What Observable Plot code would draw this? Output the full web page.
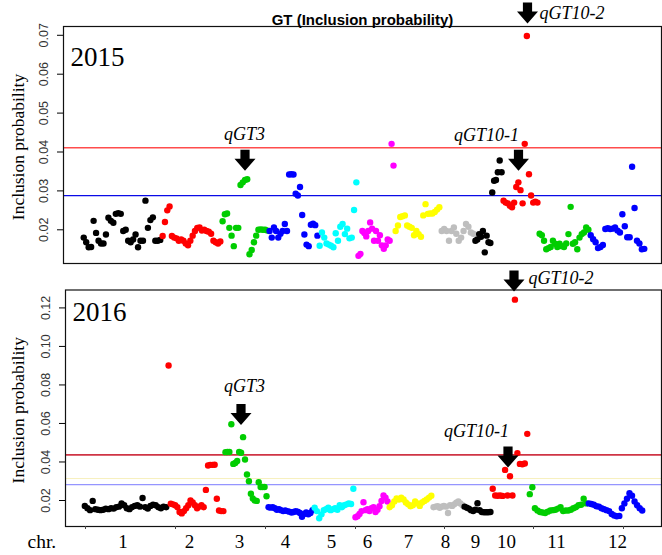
<!DOCTYPE html>
<html><head><meta charset="utf-8">
<script src="https://cdn.jsdelivr.net/npm/d3@7"></script>
<script src="https://cdn.jsdelivr.net/npm/@observablehq/plot@0.6"></script>
<style>
body{margin:0;background:#fff;}
#wrap{position:relative;width:662px;height:555px;overflow:hidden;background:#fff;}
#p1{position:absolute;left:0;top:0;}
#p2{position:absolute;left:0;top:270px;}
svg{overflow:visible;}
</style></head><body><div id="wrap"><div id="p1"></div><div id="p2"></div></div>
<script>
// ---------- data ----------
const chromosomes = ["1","2","3","4","5","6","7","8","9","10","11","12"];
const chrColors = ["black","red","#00CD00","blue","cyan","magenta","yellow","#BEBEBE","black","red","#00CD00","blue"];

// cumulative marker positions of chromosome starts (13 = starts + end)
const chrStart2015 = [19, 98, 158, 205, 255, 294, 331, 377, 411, 439, 475, 526, 582];
const chrStart2016 = [18, 102, 159, 202, 248, 289, 323, 367, 398, 426, 463, 522, 578];

// 2015 inclusion probabilities, per chromosome, in map order
const p2015_chr1 = [0.018,0.0168,0.0155,0.0156,0.0223,0.0192,0.0172,0.0165,0.0165,0.0188,0.0231,0.0223,0.0218,0.0241,0.0243,0.0241,0.0197,0.020,0.0172,0.0168,0.0175,0.0188,0.0155,0.0172,0.0172,0.0275,0.0205,0.0225,0.0232,0.0172,0.0172,0.0174];
const p2015_chr2 = [0.0184,0.022,0.025,0.026,0.0184,0.018,0.0178,0.0172,0.0175,0.0172,0.0165,0.016,0.0172,0.0185,0.0197,0.0205,0.0206,0.0198,0.020,0.0197,0.0195,0.019,0.0172,0.0168,0.0165,0.017];
const p2015_chr3 = [0.0222,0.024,0.0242,0.0205,0.0185,0.0158,0.0205,0.0205,0.0315,0.0322,0.0328,0.033,0.0137,0.0148,0.0168,0.0185,0.0200,0.0201,0.0200,0.0200,0.0198];
const p2015_chr4 = [0.0197,0.018,0.0206,0.0197,0.018,0.019,0.0197,0.0215,0.0197,0.0342,0.0343,0.0342,0.0293,0.0288,0.031,0.0238,0.0188,0.0162,0.0158,0.0213,0.0216,0.0212,0.0185];
const p2015_chr5 = [0.0159,0.0193,0.018,0.0165,0.0162,0.0159,0.0155,0.0191,0.0172,0.0208,0.0215,0.0189,0.0203,0.0178,0.018,0.0251,0.0322];
const p2015_chr6 = [0.0133,0.0138,0.0197,0.0192,0.0183,0.0197,0.0219,0.0203,0.0172,0.0197,0.0172,0.0186,0.016,0.0151,0.016,0.0175,0.0172,0.0421,0.0365];
const p2015_chr7 = [0.0197,0.0211,0.0233,0.0235,0.0237,0.0211,0.0208,0.0205,0.0186,0.0197,0.0189,0.0182,0.0237,0.0266,0.0241,0.0242,0.0242,0.0246,0.0252,0.0258];
const p2015_chr8 = [0.0197,0.0202,0.0197,0.0172,0.0197,0.0206,0.019,0.0172,0.018,0.0197,0.0215,0.0208,0.0193,0.019];
const p2015_chr9 = [0.0172,0.0175,0.0189,0.0182,0.0197,0.0142,0.0185,0.0168,0.0166,0.0296,0.0326,0.0328,0.0348,0.0378,0.0348];
const p2015_chr10 = [0.0275,0.027,0.0268,0.0262,0.0258,0.027,0.031,0.0322,0.0302,0.0268,0.0421,0.0698,0.0343,0.0288,0.027,0.0272,0.027];
const p2015_chr11 = [0.019,0.0186,0.0172,0.015,0.0153,0.0156,0.0172,0.0164,0.0156,0.0164,0.0158,0.0156,0.0165,0.0189,0.0259,0.0164,0.0168,0.015,0.018,0.0189,0.0193,0.0206,0.02];
const p2015_chr12 = [0.0186,0.0176,0.0168,0.0153,0.0156,0.0161,0.0202,0.0204,0.0202,0.0203,0.0206,0.0198,0.0193,0.024,0.0209,0.0181,0.0181,0.0362,0.0256,0.0172,0.0165,0.015,0.0151];

// 2016 inclusion probabilities
const p2016_chr1 = [0.0172,0.016,0.015,0.0198,0.0155,0.0152,0.015,0.0152,0.0158,0.0155,0.016,0.0158,0.0165,0.0168,0.0185,0.0175,0.016,0.0155,0.0165,0.0172,0.0175,0.0168,0.0213,0.0165,0.0158,0.0172,0.0178,0.0175,0.0165,0.016,0.0168,0.0165];
const p2016_chr2 = [0.0901,0.0183,0.018,0.0175,0.0165,0.014,0.0133,0.0145,0.016,0.0175,0.020,0.019,0.0175,0.016,0.0168,0.0175,0.0165,0.0255,0.0382,0.0385,0.0385,0.0386,0.0209,0.0148,0.0145,0.0145];
const p2016_chr3 = [0.0451,0.0452,0.0452,0.0596,0.039,0.0395,0.0405,0.0452,0.0448,0.0529,0.0413,0.0335,0.030,0.0235,0.021,0.020,0.0198,0.0295,0.027,0.027,0.027,0.0222];
const p2016_chr4 = [0.0165,0.0163,0.0165,0.016,0.0152,0.0155,0.015,0.0145,0.0148,0.0145,0.0142,0.0138,0.014,0.0145,0.0142,0.0135,0.0115,0.013,0.0138,0.0128,0.0135,0.015];
const p2016_chr5 = [0.0162,0.0145,0.0108,0.0128,0.015,0.0155,0.0162,0.015,0.0155,0.016,0.0152,0.0175,0.0165,0.0175,0.018,0.0185,0.0182,0.0261];
const p2016_chr6 = [0.0113,0.0118,0.013,0.0145,0.0191,0.015,0.0155,0.0145,0.016,0.0165,0.014,0.0152,0.017,0.0198,0.0226,0.0215,0.0195];
const p2016_chr7 = [0.0165,0.0175,0.0195,0.021,0.0205,0.0215,0.0205,0.019,0.018,0.017,0.0175,0.0195,0.0185,0.0172,0.019,0.0198,0.0205,0.0215,0.0225];
const p2016_chr8 = [0.0165,0.0168,0.017,0.0162,0.0168,0.0172,0.0168,0.0135,0.0175,0.0172,0.018,0.0188,0.0195,0.0185,0.0175];
const p2016_chr9 = [0.0168,0.0163,0.0158,0.015,0.0145,0.0152,0.0186,0.015,0.014,0.0139,0.0139,0.0139,0.014];
const p2016_chr10 = [0.0261,0.0226,0.0225,0.0226,0.0224,0.0359,0.0226,0.0326,0.0226,0.1243,0.0446,0.039,0.0388,0.0392,0.0546];
const p2016_chr11 = [0.0233,0.0269,0.016,0.0148,0.014,0.0138,0.0135,0.0142,0.0148,0.015,0.0152,0.0158,0.0165,0.0145,0.0148,0.0148,0.0152,0.016,0.0165,0.0175,0.0178,0.0209,0.0185];
const p2016_chr12 = [0.0185,0.0182,0.0178,0.017,0.0168,0.016,0.0155,0.015,0.0145,0.013,0.0122,0.0118,0.012,0.016,0.0185,0.0209,0.0238,0.0225,0.0195,0.0175,0.016,0.0148];

// thresholds
const thresholds2015 = {red: 0.0411, blue: 0.0288};
const thresholds2016 = {red: 0.0437, blue: 0.0282, faint: 0.0314};

// axis ticks
const yTicks2015 = [0.02, 0.03, 0.04, 0.05, 0.06, 0.07];
const yTicks2016 = [0.02, 0.04, 0.06, 0.08, 0.10, 0.12];
const chrLabelPos = [57.5, 124, 174, 220, 266, 302, 343, 380, 410, 441, 491, 552];
const xTickPos = [20, 110, 200, 290, 379, 468, 558];

// QTL annotations
const qtl2015 = [
  {label: "qGT3", tx: 181, ty: 0.0432, ax: 181.5, ay: 0.0379, anchor: "middle"},
  {label: "qGT10-1", tx: 423, ty: 0.0427, ax: 455, ay: 0.0379, anchor: "middle"},
  {label: "qGT10-2", tx: 476, ty: 0.0743, ax: 464, ay: 0.0757, anchor: "start"}
];
const qtl2016 = [
  {label: "qGT3", tx: 179, ty: 0.0763, ax: 175.5, ay: 0.0647, anchor: "middle"},
  {label: "qGT10-1", tx: 411, ty: 0.0532, ax: 442.5, ay: 0.0426, anchor: "middle"},
  {label: "qGT10-2", tx: 463, ty: 0.1322, ax: 448.5, ay: 0.134, anchor: "start"}
];

// ---------- build ----------
const year2015 = [p2015_chr1,p2015_chr2,p2015_chr3,p2015_chr4,p2015_chr5,p2015_chr6,p2015_chr7,p2015_chr8,p2015_chr9,p2015_chr10,p2015_chr11,p2015_chr12];
const year2016 = [p2016_chr1,p2016_chr2,p2016_chr3,p2016_chr4,p2016_chr5,p2016_chr6,p2016_chr7,p2016_chr8,p2016_chr9,p2016_chr10,p2016_chr11,p2016_chr12];

function toRows(lists, starts) {
  const rows = [];
  lists.forEach((vals, c) => {
    const a = starts[c], b = starts[c + 1], n = vals.length;
    vals.forEach((v, i) => rows.push({pos: a + (i + 0.5) * (b - a) / n, value: v, color: chrColors[c]}));
  });
  return rows;
}

const downArrow = {
  draw(ctx) {
    ctx.moveTo(-4.6, -10.5); ctx.lineTo(4.6, -10.5); ctx.lineTo(4.6, -1.5);
    ctx.lineTo(10.5, -1.5); ctx.lineTo(0, 10.5); ctx.lineTo(-10.5, -1.5);
    ctx.lineTo(-4.6, -1.5); ctx.closePath();
  }
};

const serif = "'Liberation Serif', 'Times New Roman', serif";
const sans = "'Liberation Sans', Arial, sans-serif";

function panel({rows, yDomain, yTicks, thr, qtl, year, height, marginLeft, marginTop, marginBottom, xMax, bottomAxis, title}) {
  const qtlText = {x: "tx", y: "ty", text: "label", lineAnchor: "bottom",
    fontSize: 18, fontStyle: "italic", fontFamily: serif, fill: "black"};
  const marks = [
    Plot.axisY({ticks: yTicks, tickSize: 6, tickPadding: 10, tickRotate: -90,
      tickFormat: d3.format(".2f"), fontSize: 12.5, fontFamily: sans, fill: "#333", label: null}),
  ];
  if (thr.faint) marks.push(Plot.ruleY([thr.faint], {stroke: "#f7f0bd", strokeWidth: 1}));
  marks.push(
    Plot.ruleY([thr.blue], {stroke: year === "2015" ? "#0a0ae6" : "#7a7aff", strokeWidth: year === "2015" ? 1.3 : 1}),
    Plot.ruleY([thr.red], {stroke: year === "2015" ? "#ff4d4d" : "#cf3545", strokeWidth: 1.6}),
    Plot.dot(rows, {x: "pos", y: "value", fill: "color", r: 3.2, stroke: "none"}),
    Plot.frame({stroke: "#111", strokeWidth: 1.2}),
    Plot.text([year], {text: d => d, frameAnchor: "top-left", dx: 7, dy: year === "2015" ? 39 : 31,
      lineAnchor: "bottom", textAnchor: "start", fontSize: 27, fontFamily: serif, fill: "black"}),
    Plot.text(["Inclusion probability"], {text: d => d, frameAnchor: "left", dx: -marginLeft + 23, dy: 2,
      rotate: -90, lineAnchor: "bottom", textAnchor: "middle", fontSize: 17.5, fontFamily: serif, fill: "black"}),
    Plot.text(qtl.filter(d => d.anchor === "middle"), {...qtlText, textAnchor: "middle"}),
    Plot.text(qtl.filter(d => d.anchor === "start"), {...qtlText, textAnchor: "start"}),
    Plot.dot(qtl, {x: "ax", y: "ay", symbol: downArrow, fill: "black", stroke: "none"})
  );
  if (title) marks.push(Plot.text([title], {text: d => d, frameAnchor: "top", dy: -2, lineAnchor: "bottom",
    fontWeight: "bold", fontSize: 15, fontFamily: sans, fill: "black"}));
  if (bottomAxis) {
    marks.push(
      Plot.axisX({ticks: xTickPos, tickSize: 3, tickFormat: () => "", stroke: "#444", label: null}),
      Plot.text(chromosomes.map((c, i) => ({chr: c, pos: chrLabelPos[i]})), {x: "pos", text: "chr",
        frameAnchor: "bottom", dy: 21, lineAnchor: "bottom", fontSize: 19, fontFamily: serif, fill: "black"}),
      Plot.text(["chr."], {text: d => d, frameAnchor: "bottom-left", dx: -38, dy: 21, lineAnchor: "bottom",
        textAnchor: "start", fontSize: 19.5, fontFamily: serif, fill: "black"})
    );
  }
  return Plot.plot({
    width: 662, height, marginLeft, marginRight: 1, marginTop, marginBottom,
    x: {domain: [0, xMax], axis: null},
    y: {domain: yDomain, label: null, axis: null},
    color: {type: "identity"},
    style: {background: "transparent", overflow: "visible", fontFamily: sans, color: "black"},
    marks
  });
}

document.getElementById("p1").appendChild(panel({
  rows: toRows(year2015, chrStart2015), yDomain: [0.01134, 0.07226], yTicks: yTicks2015,
  thr: thresholds2015, qtl: qtl2015, year: "2015", height: 270, marginLeft: 63, marginTop: 26,
  marginBottom: 7, xMax: 598, bottomAxis: false, title: "GT (Inclusion probability)"
}));
document.getElementById("p2").appendChild(panel({
  rows: toRows(year2016, chrStart2016), yDomain: [0.0065, 0.1293], yTicks: yTicks2016,
  thr: thresholds2016, qtl: qtl2016, year: "2016", height: 285, marginLeft: 65, marginTop: 19.5,
  marginBottom: 29, xMax: 596, bottomAxis: true, title: null
}));
</script></body></html>
